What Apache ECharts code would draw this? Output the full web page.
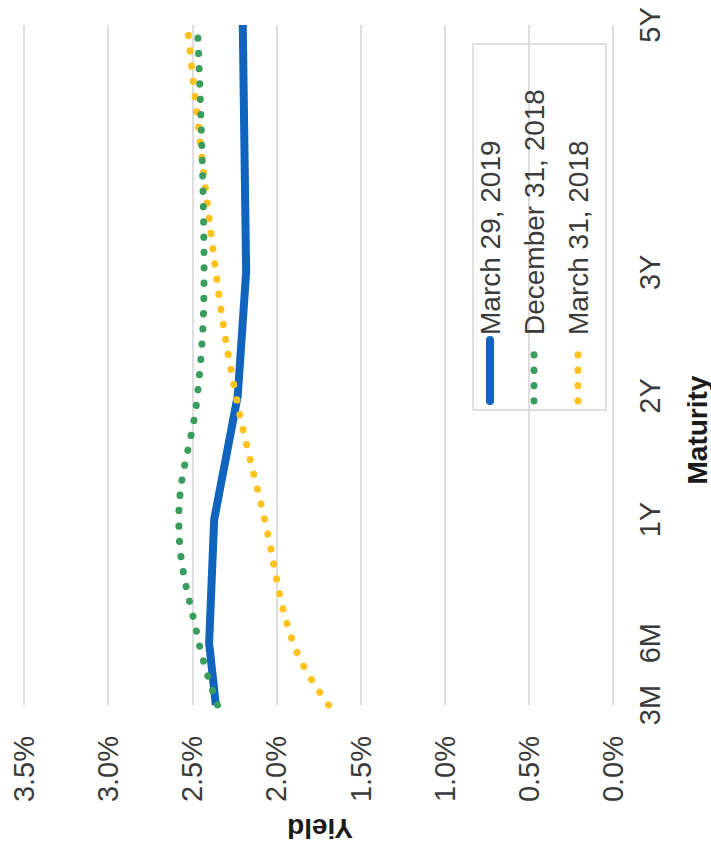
<!DOCTYPE html>
<html>
<head>
<meta charset="utf-8">
<script src="https://cdn.jsdelivr.net/npm/echarts@6/dist/echarts.min.js"></script>
<style>
html,body{margin:0;padding:0;overflow:hidden;background:#fff;width:711px;height:846px;}
#chart{position:absolute;left:0;top:846px;width:846px;height:711px;transform-origin:0 0;transform:rotate(-90deg);}
</style>
</head>
<body>
<div id="chart"></div>
<script>
// Maturity slots (blank slots keep the original uneven spacing of the axis)
const maturities = ['3M','6M','','1Y','','2Y','','3Y','','','','5Y'];
// Yields in %
const mar2019 = [2.36, 2.40, null, 2.37, null, 2.23, null, 2.18, null, null, null, 2.20];
const dec2018 = [2.35, 2.46, null, 2.58, null, 2.47, null, 2.43, null, null, null, 2.47];
const mar2018 = [1.69, 1.90, null, 2.07, null, 2.24, null, 2.36, null, null, null, 2.53];
const seriesNames = ['March 29, 2019', 'December 31, 2018', 'March 31, 2018'];
const yieldTicks = [0, 0.5, 1.0, 1.5, 2.0, 2.5, 3.0, 3.5];
const yieldTickLabels = ['0.0%','0.5%','1.0%','1.5%','2.0%','2.5%','3.0%','3.5%'];

const FONT = "'Liberation Sans', Arial, sans-serif";
const chart = echarts.init(document.getElementById('chart'), null, {renderer: 'svg', width: 846, height: 711});

const DOT = [0.3, 15];
chart.setOption({
  backgroundColor: '#ffffff',
  animation: false,
  textStyle: {fontFamily: FONT},
  grid: {left: 141, right: 25, top: 24, bottom: 98, containLabel: false},
  xAxis: {
    type: 'category',
    data: maturities,
    boundaryGap: false,
    axisLine: {show: false},
    axisTick: {show: false},
    axisLabel: {interval: 0, fontSize: 29, color: '#3a3a3a', fontFamily: FONT, margin: 22},
    splitLine: {show: false}
  },
  yAxis: {
    type: 'value',
    min: yieldTicks[0],
    max: yieldTicks[yieldTicks.length - 1],
    interval: yieldTicks[1] - yieldTicks[0],
    axisLine: {show: false},
    axisTick: {show: false},
    axisLabel: {
      fontSize: 29, color: '#3a3a3a', fontFamily: FONT, margin: 31,
      formatter: function (v) {
        const i = yieldTicks.findIndex(t => Math.abs(t - v) < 1e-9);
        return i >= 0 ? yieldTickLabels[i] : '';
      }
    },
    splitLine: {show: true, lineStyle: {color: '#d6d6d6', width: 1.6}}
  },
  legend: {
    orient: 'vertical',
    left: 436,
    top: 473,
    padding: [3, 45, 14, 5],
    itemGap: 16,
    itemWidth: 61,
    itemHeight: 14,
    itemTextGap: 8,
    borderColor: '#d6d6d6',
    borderWidth: 1.5,
    textStyle: {fontSize: 28, color: '#3a3a3a', fontFamily: FONT},
    data: [
      {name: seriesNames[0], itemStyle: {opacity: 0}, lineStyle: {width: 8, cap: 'round', opacity: 1}},
      {name: seriesNames[1], itemStyle: {opacity: 0}, lineStyle: {width: 7, cap: 'round', type: DOT, opacity: 1}},
      {name: seriesNames[2], itemStyle: {opacity: 0}, lineStyle: {width: 7, cap: 'round', type: DOT, opacity: 1}}
    ]
  },
  graphic: [
    {type: 'text', x: 416, y: 697, z: 10,
     style: {text: 'Maturity', font: 'bold 28px ' + FONT, fill: '#1a1a1a', textAlign: 'center', textVerticalAlign: 'middle'}},
    {type: 'text', x: 18, y: 320, rotation: Math.PI / 2, z: 10,
     style: {text: 'Yield', font: 'bold 28px ' + FONT, fill: '#1a1a1a', textAlign: 'center', textVerticalAlign: 'middle'}}
  ],
  series: [
    {
      name: seriesNames[0], type: 'line', data: mar2019, connectNulls: true,
      symbol: 'none', smooth: false, z: 2,
      lineStyle: {color: '#1064bd', width: 8, join: 'round', cap: 'butt'},
      itemStyle: {color: '#1064bd'}
    },
    {
      name: seriesNames[1], type: 'line', data: dec2018, connectNulls: true,
      symbol: 'none', smooth: 0.4, z: 4,
      lineStyle: {color: '#3a9d5d', width: 7, type: DOT, cap: 'round'},
      itemStyle: {color: '#3a9d5d'}
    },
    {
      name: seriesNames[2], type: 'line', data: mar2018, connectNulls: true,
      symbol: 'none', smooth: 0.4, z: 3,
      lineStyle: {color: '#ffc21f', width: 7, type: DOT, cap: 'round'},
      itemStyle: {color: '#ffc21f'}
    }
  ]
});
</script>
</body>
</html>
